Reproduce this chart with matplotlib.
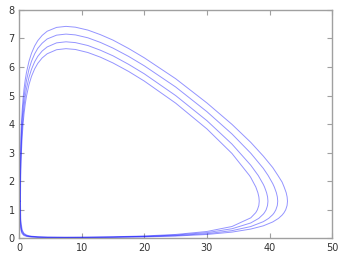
import numpy as np
import matplotlib
matplotlib.use('Agg')
import matplotlib.pyplot as plt

# four closed orbits (x, y), outer to inner
orbit1_x = [0.144, 0.164, 0.206, 0.3, 0.4, 0.5, 0.65, 0.8, 1.0, 1.2, 1.6, 2, 2.5, 3, 3.7, 4.5, 6, 7.5, 9, 11, 13, 15, 17.5, 20,
            25, 30, 34, 37, 39, 40.5, 41.34, 42, 42.32, 42.65, 42.80, 42.86, 42.79, 42.57, 42.31, 42, 41.42, 40.5, 39, 37, 34,
            30, 25, 20, 15, 11, 7.5, 4.5, 3, 2, 1.6, 1.2, 0.8, 0.5, 0.3, 0.219, 0.169, 0.144]
orbit1_y = [1.3, 2.0, 2.7, 3.51, 4.062, 4.45, 4.89, 5.22, 5.553, 5.81, 6.20, 6.48, 6.733, 6.92, 7.104, 7.25, 7.384, 7.42, 7.392, 7.29, 7.13, 6.94, 6.646, 6.32,
            5.59, 4.74, 3.99, 3.36, 2.88, 2.48, 2.2, 1.97, 1.8, 1.6, 1.45, 1.3, 1.15, 1.0, 0.9, 0.815, 0.7, 0.575, 0.44, 0.327, 0.22,
            0.137, 0.081, 0.051, 0.034, 0.027, 0.025, 0.028, 0.035, 0.046, 0.055, 0.070, 0.10, 0.165, 0.295, 0.45, 0.7, 1.3]

orbit2_x = [0.172, 0.192, 0.236, 0.3, 0.4, 0.5, 0.65, 0.8, 1.0, 1.2, 1.6, 2, 2.5, 3, 3.7, 4.5, 6, 7.5, 9, 11, 13, 15, 17.5, 20,
            25, 30, 34, 37, 39, 39.77, 40.5, 40.75, 41.08, 41.24, 41.3, 41.23, 41.0, 40.745, 40.5, 39.85, 39, 37, 34,
            30, 25, 20, 15, 11, 7.5, 4.5, 3, 2, 1.6, 1.2, 0.8, 0.5, 0.3, 0.244, 0.202, 0.172]
orbit2_y = [1.3, 2.0, 2.6, 3.16, 3.728, 4.14, 4.584, 4.92, 5.261, 5.53, 5.92, 6.20, 6.457, 6.65, 6.831, 6.98, 7.113, 7.15, 7.122, 7.02, 6.858, 6.66, 6.369, 6.04,
            5.30, 4.435, 3.655, 2.98, 2.45, 2.2, 1.92, 1.8, 1.6, 1.45, 1.3, 1.15, 1.0, 0.9, 0.83, 0.7, 0.585, 0.415, 0.271,
            0.166, 0.097, 0.0607, 0.041, 0.0326, 0.03, 0.0335, 0.0414, 0.0548, 0.0655, 0.084, 0.123, 0.2, 0.37, 0.5, 0.7, 1.3]

orbit3_x = [0.204, 0.228, 0.26, 0.3, 0.4, 0.5, 0.65, 0.8, 1.0, 1.2, 1.6, 2, 2.5, 3, 3.7, 4.5, 6, 7.5, 9, 11, 13, 15, 17.5, 20,
            25, 30, 34, 37, 38.19, 39, 39.19, 39.52, 39.68, 39.74, 39.67, 39.45, 39.18, 39, 38.27, 37, 34,
            30, 25, 20, 15, 11, 7.5, 4.5, 3, 2, 1.6, 1.2, 0.8, 0.5, 0.3, 0.274, 0.24, 0.204]
orbit3_y = [1.3, 2.0, 2.4, 2.76, 3.382, 3.81, 4.272, 4.62, 4.966, 5.24, 5.64, 5.92, 6.18, 6.37, 6.558, 6.70, 6.843, 6.88, 6.852, 6.75, 6.585, 6.39, 6.091, 5.76,
            5.0, 4.12, 3.30, 2.56, 2.2, 1.89, 1.8, 1.6, 1.45, 1.3, 1.15, 1.0, 0.9, 0.85, 0.7, 0.541, 0.3375,
            0.2025, 0.117, 0.0726, 0.0489, 0.0388, 0.0356, 0.0399, 0.0493, 0.0655, 0.0784, 0.1007, 0.1485, 0.246, 0.476, 0.55, 0.7, 1.3]

orbit4_x = [0.238, 0.267, 0.3, 0.4, 0.5, 0.65, 0.8, 1.0, 1.2, 1.6, 2, 2.5, 3, 3.7, 4.5, 6, 7.5, 9, 11, 13, 15, 17.5, 20,
            25, 30, 34, 36.79, 37, 37.8, 38.13, 38.29, 38.35, 38.28, 38.05, 37.79, 37, 34,
            30, 25, 20, 15, 11, 7.5, 4.5, 3, 2, 1.6, 1.2, 0.8, 0.5, 0.3, 0.281, 0.238]
orbit4_y = [1.3, 2.0, 2.37, 3.055, 3.507, 3.99, 4.344, 4.701, 4.977, 5.383, 5.672, 5.932, 6.125, 6.315, 6.461, 6.603, 6.64, 6.612, 6.505, 6.342, 6.14, 5.843, 5.506,
            4.735, 3.831, 2.971, 2.2, 2.13, 1.8, 1.6, 1.45, 1.3, 1.15, 1.0, 0.9, 0.72, 0.4165,
            0.242, 0.138, 0.085, 0.057, 0.0453, 0.0415, 0.0465, 0.0576, 0.0767, 0.092, 0.1185, 0.176, 0.297, 0.614, 0.7, 1.3]

x_ticks = [0, 10, 20, 30, 40, 50]
y_ticks = [0, 1, 2, 3, 4, 5, 6, 7, 8]

fig = plt.figure(figsize=(3.45, 2.58), dpi=100)
ax = fig.add_axes([0.055, 0.076, 0.908, 0.886])

for ox, oy in [(orbit1_x, orbit1_y), (orbit2_x, orbit2_y), (orbit3_x, orbit3_y), (orbit4_x, orbit4_y)]:
    ax.plot(ox, oy, color='blue', alpha=0.42, lw=0.7)

ax.set_xlim(0, 50)
ax.set_ylim(0, 8)
ax.set_xticks(x_ticks)
ax.set_yticks(y_ticks)

for s in ax.spines.values():
    s.set_color('#a0a0a0')
    s.set_linewidth(1.0)
ax.tick_params(direction='in', length=3.5, width=0.8, color='#a0a0a0',
               top=True, right=True, labelsize=7, labelcolor='#333333', pad=3)

fig.savefig('out.png', dpi=100)
